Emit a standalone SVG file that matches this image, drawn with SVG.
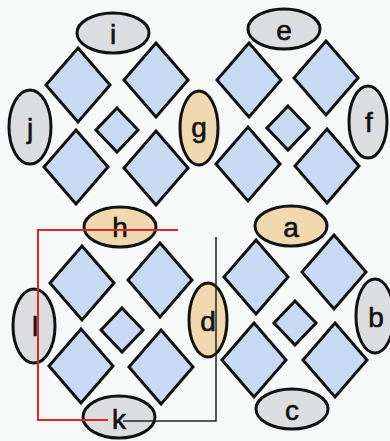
<svg xmlns="http://www.w3.org/2000/svg" width="390" height="441" viewBox="0 0 390 441">
<defs>
<style>
.dl{fill:#c8d9f4;stroke:#111;stroke-width:3;stroke-linejoin:miter}
.eg{fill:#dcdde1;stroke:#111;stroke-width:3}
.et{fill:#f0d9ae;stroke:#111;stroke-width:3}
.t{font-family:"Liberation Sans",Arial,sans-serif;font-size:28px;fill:#111;stroke:#111;stroke-width:0.6;text-anchor:middle;dominant-baseline:central}
.red{fill:none;stroke:#e0262a;stroke-width:2}
.blk{fill:none;stroke:#222;stroke-width:1.5}
</style>
</defs>
<rect width="390" height="441" fill="#f6f9f7"/>
<g id="cluster-tl">
<path class="dl" d="M78 48 L110 85 L78 122 L46 85 Z"/>
<path class="dl" d="M156 43 L188 80 L156 117 L124 80 Z"/>
<path class="dl" d="M117 108 L138 130 L117 152 L96 130 Z"/>
<path class="dl" d="M76 130 L108 167 L76 204 L44 167 Z"/>
<path class="dl" d="M156 131 L188 168 L156 205 L124 168 Z"/>
</g>
<g id="cluster-tr">
<path class="dl" d="M249 43 L281 80 L249 117 L217 80 Z"/>
<path class="dl" d="M326 41 L358 78 L326 115 L294 78 Z"/>
<path class="dl" d="M288 106 L309 128 L288 150 L267 128 Z"/>
<path class="dl" d="M248 127 L280 164 L248 201 L216 164 Z"/>
<path class="dl" d="M327 129 L359 166 L327 203 L295 166 Z"/>
</g>
<g id="cluster-bl">
<path class="dl" d="M82 246 L114 283 L82 320 L50 283 Z"/>
<path class="dl" d="M160 243 L192 280 L160 317 L128 280 Z"/>
<path class="dl" d="M122 308 L143 330 L122 352 L101 330 Z"/>
<path class="dl" d="M81 329 L113 366 L81 403 L49 366 Z"/>
<path class="dl" d="M161 330 L193 367 L161 404 L129 367 Z"/>
</g>
<g id="cluster-br">
<path class="dl" d="M256 240 L288 277 L256 314 L224 277 Z"/>
<path class="dl" d="M334 235 L366 272 L334 309 L302 272 Z"/>
<path class="dl" d="M295 301 L316 323 L295 345 L274 323 Z"/>
<path class="dl" d="M254 323 L286 360 L254 397 L222 360 Z"/>
<path class="dl" d="M335 323 L367 360 L335 397 L303 360 Z"/>
</g>
<g id="node-i"><ellipse class="eg" cx="113" cy="33" rx="36" ry="20"/><text class="t" x="113" y="34">i</text></g>
<g id="node-j"><ellipse class="eg" cx="30" cy="127" rx="21" ry="37"/><text class="t" x="30" y="128">j</text></g>
<g id="node-g"><ellipse class="et" cx="199" cy="128" rx="19" ry="37"/><text class="t" x="199" y="127">g</text></g>
<g id="node-e"><ellipse class="eg" cx="284" cy="29" rx="36" ry="20"/><text class="t" x="284" y="30">e</text></g>
<g id="node-f"><ellipse class="eg" cx="368" cy="122" rx="19" ry="36"/><text class="t" x="369" y="122">f</text></g>
<g id="node-h"><ellipse class="et" cx="120" cy="227" rx="36" ry="20"/><text class="t" x="120" y="227">h</text></g>
<g id="node-l"><ellipse class="eg" cx="34" cy="326" rx="21" ry="37"/><text class="t" x="35" y="326">l</text></g>
<g id="node-k"><ellipse class="eg" cx="119" cy="417" rx="36" ry="21"/><text class="t" x="119" y="419">k</text></g>
<g id="node-d"><ellipse class="et" cx="208" cy="320" rx="19" ry="37"/><text class="t" x="208" y="321">d</text></g>
<g id="node-a"><ellipse class="et" cx="291" cy="226" rx="36" ry="20"/><text class="t" x="291" y="227">a</text></g>
<g id="node-b"><ellipse class="eg" cx="375" cy="316" rx="19" ry="37"/><text class="t" x="376" y="317">b</text></g>
<g id="node-c"><ellipse class="eg" cx="292" cy="409" rx="36" ry="20"/><text class="t" x="292" y="410">c</text></g>
<g id="connectors">
<path class="red" d="M178 230 H38 V420 H108"/>
<path class="blk" d="M123 421 H216 V237"/>
</g>
</svg>
